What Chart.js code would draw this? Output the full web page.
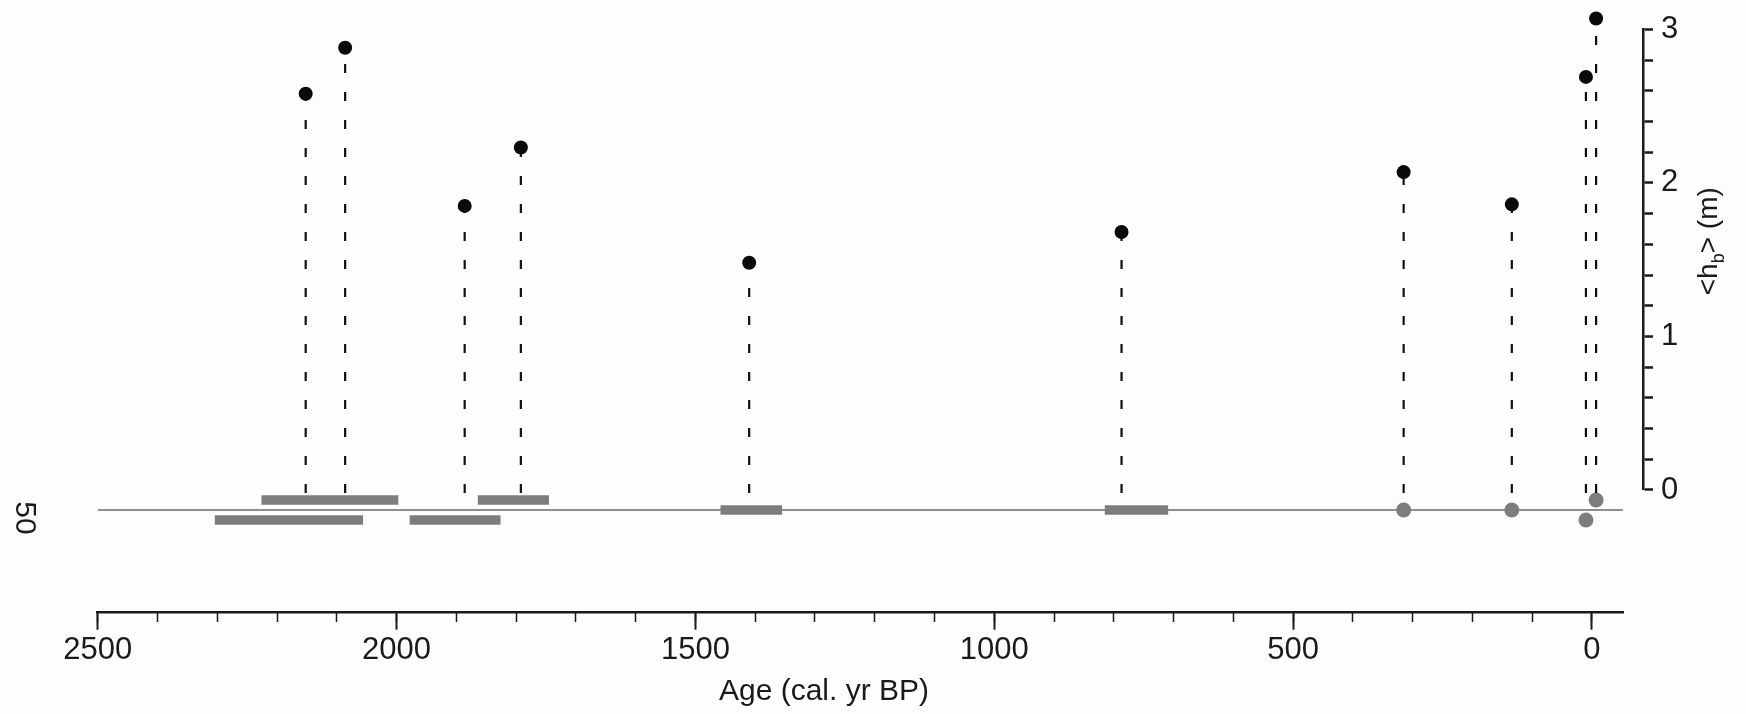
<!DOCTYPE html>
<html>
<head>
<meta charset="utf-8">
<title>Edad vs hb</title>
<script src="https://cdn.jsdelivr.net/npm/chart.js@4.4.0/dist/chart.umd.min.js"></script>
<style>
  html, body { margin: 0; padding: 0; background: #fdfdfd; }
  #contenedor { width: 1746px; height: 714px; }
</style>
</head>
<body>
<div id="contenedor"><canvas id="myChart" width="1746" height="714"></canvas></div>
<script>
// Muestras: edad (cal. yr BP) y altura media <hb> (m)
const ages = [2152, 2086, 1886, 1792, 1410, 787, 315, 134, 10, -7];
const heights = [2.58, 2.88, 1.85, 2.23, 1.48, 1.68, 2.07, 1.86, 2.69, 3.07];

// Fechas modernas (puntos grises) y su fila en la franja inferior
const modernAges = [315, 134, 10, -7];
const modernRows = [0, 0, -1, 1];

// Rangos de edad calibrada (barras grises)
const rangeStart = [2226, 2304, 1978, 1864, 1458, 815];
const rangeEnd = [1997, 2056, 1826, 1745, 1355, 709];
const rangeRows = [1, -1, -1, 1, 0, 0];

// Marcas de los ejes
const xTicks = [2500, 2000, 1500, 1000, 500, 0];
const hbTicks = [0, 0.2, 0.4, 0.6, 0.8, 1, 1.2, 1.4, 1.6, 1.8, 2, 2.2, 2.4, 2.6, 2.8, 3];
const hbLabels = ['0', '1', '2', '3'];

const X_MIN = -52;
const X_MAX = 2500;
const STRIP_MIN = -10.27;
const STRIP_MAX = 2;
const STEM_BASE = -0.02;
const AXIS_GAP = 20;
const AXIS_WIDTH = 103;

const FONT = "'Liberation Sans', Arial, sans-serif";
const INK = '#1a1a1a';
const GRIS = '#7d7d7d';

const datasets = [];

// Puntos negros
datasets.push({
  data: ages.map((a, i) => ({ x: a, y: heights[i] })),
  yAxisID: 'y',
  backgroundColor: '#0a0a0a',
  borderWidth: 0,
  pointRadius: 7,
  order: 0,
  clip: false
});

// Líneas verticales discontinuas (de abajo hacia el punto)
ages.forEach((a, i) => {
  datasets.push({
    data: [{ x: a, y: STEM_BASE }, { x: a, y: heights[i] }],
    yAxisID: 'y',
    showLine: true,
    borderColor: '#111111',
    borderWidth: 2.2,
    borderDash: [9, 19],
    pointRadius: 0,
    order: 1,
    clip: false
  });
});

// Puntos grises
datasets.push({
  data: modernAges.map((a, i) => ({ x: a, y: modernRows[i] })),
  yAxisID: 'yStrip',
  backgroundColor: GRIS,
  borderWidth: 0,
  pointRadius: 7.5,
  order: 2,
  clip: false
});

// Barras de rango
rangeStart.forEach((s, i) => {
  datasets.push({
    data: [{ x: s, y: rangeRows[i] }, { x: rangeEnd[i], y: rangeRows[i] }],
    yAxisID: 'yStrip',
    showLine: true,
    borderColor: GRIS,
    borderWidth: 9.5,
    borderCapStyle: 'butt',
    pointRadius: 0,
    order: 3,
    clip: false
  });
});

// Línea base gris
datasets.push({
  data: [{ x: X_MAX, y: 0 }, { x: X_MIN, y: 0 }],
  yAxisID: 'yStrip',
  showLine: true,
  borderColor: '#8e8e8e',
  borderWidth: 2,
  pointRadius: 0,
  order: 4
});

// Desplaza el eje derecho fuera del área del gráfico
const moverEje = {
  id: 'moverEje',
  afterLayout(chart) {
    ['yTop', 'y', 'yStrip'].forEach((id) => {
      chart.scales[id].left += AXIS_GAP;
      chart.scales[id].right += AXIS_GAP;
    });
  }
};

// Títulos de los ejes y rótulo "50"
const rotulos = {
  id: 'rotulos',
  afterDraw(chart) {
    const { ctx } = chart;
    const eje = chart.scales.y;
    const franja = chart.scales.yStrip;

    // título del eje x
    ctx.save();
    ctx.fillStyle = INK;
    ctx.font = '30px ' + FONT;
    ctx.textAlign = 'center';
    ctx.textBaseline = 'middle';
    ctx.fillText('Age (cal. yr BP)', 824, 692);
    ctx.restore();

    // título del eje derecho: <h_b> (m)
    ctx.save();
    ctx.fillStyle = INK;
    ctx.textBaseline = 'alphabetic';
    const big = '28px ' + FONT;
    const small = '18px ' + FONT;
    const partes = [
      { t: '<h', f: big, dy: 0 },
      { t: 'b', f: small, dy: 7 },
      { t: '> (m)', f: big, dy: 0 }
    ];
    let ancho = 0;
    partes.forEach((p) => { ctx.font = p.f; p.w = ctx.measureText(p.t).width; ancho += p.w; });
    ctx.translate(eje.left + 74, eje.getPixelForValue(1.62));
    ctx.rotate(-Math.PI / 2);
    let x = -ancho / 2;
    partes.forEach((p) => {
      ctx.font = p.f;
      ctx.fillText(p.t, x, p.dy);
      x += p.w;
    });
    ctx.restore();

    // rótulo "50" a la izquierda
    ctx.save();
    ctx.fillStyle = INK;
    ctx.font = '30px ' + FONT;
    ctx.textAlign = 'center';
    ctx.textBaseline = 'middle';
    ctx.translate(24, franja.getPixelForValue(-0.8));
    ctx.rotate(Math.PI / 2);
    ctx.fillText('50', 0, 0);
    ctx.restore();
  }
};

// los ejes apilados no reservan margen para sus rótulos
const sinMargen = (s) => {
  s.width = AXIS_WIDTH;
  s.paddingTop = 0;
  s.paddingBottom = 0;
};

new Chart(document.getElementById('myChart'), {
  type: 'scatter',
  data: { datasets },
  plugins: [moverEje, rotulos],
  options: {
    responsive: false,
    animation: false,
    events: [],
    layout: { padding: { left: 97.7, top: 10, right: AXIS_GAP, bottom: 0 } },
    plugins: { legend: { display: false }, tooltip: { enabled: false } },
    scales: {
      x: {
        type: 'linear',
        position: 'bottom',
        reverse: true,
        min: X_MIN,
        max: X_MAX,
        afterBuildTicks: (s) => { s.ticks = xTicks.map((v) => ({ value: v })); },
        afterFit: (s) => { s.height = 101.3; },
        border: { color: INK, width: 2.5 },
        grid: { drawOnChartArea: false, tickLength: 17, tickWidth: 2, tickColor: INK },
        ticks: {
          color: INK,
          font: { family: FONT, size: 31 },
          padding: 2,
          maxRotation: 0,
          autoSkip: false,
          callback: (v) => String(v)
        }
      },
      xMinor: {
        type: 'linear',
        position: { yStrip: STRIP_MIN },
        reverse: true,
        min: X_MIN,
        max: X_MAX,
        border: { display: false },
        grid: { drawOnChartArea: false, tickLength: 9, tickWidth: 1.5, tickColor: INK },
        ticks: { display: false, stepSize: 100, includeBounds: false }
      },
      // espacio libre por encima de 3 m
      yTop: {
        type: 'linear',
        position: 'right',
        stack: 'derecha',
        stackWeight: 19.3,
        min: 0,
        max: 1,
        display: false,
        afterFit: sinMargen
      },
      y: {
        type: 'linear',
        position: 'right',
        stack: 'derecha',
        stackWeight: 460.7,
        min: 0,
        max: 3,
        afterBuildTicks: (s) => { s.ticks = hbTicks.map((v) => ({ value: v })); },
        afterFit: sinMargen,
        border: { color: INK, width: 2.5 },
        grid: { drawOnChartArea: false, tickLength: 10, tickWidth: 2.5, tickColor: INK },
        ticks: {
          color: INK,
          font: { family: FONT, size: 31 },
          padding: 8,
          autoSkip: false,
          callback: (v) => (Number.isInteger(v) ? hbLabels[v] : '')
        }
      },
      yStrip: {
        type: 'linear',
        position: 'right',
        stack: 'derecha',
        stackWeight: 122.7,
        min: STRIP_MIN,
        max: STRIP_MAX,
        display: false,
        afterFit: sinMargen
      }
    }
  }
});
</script>
</body>
</html>
